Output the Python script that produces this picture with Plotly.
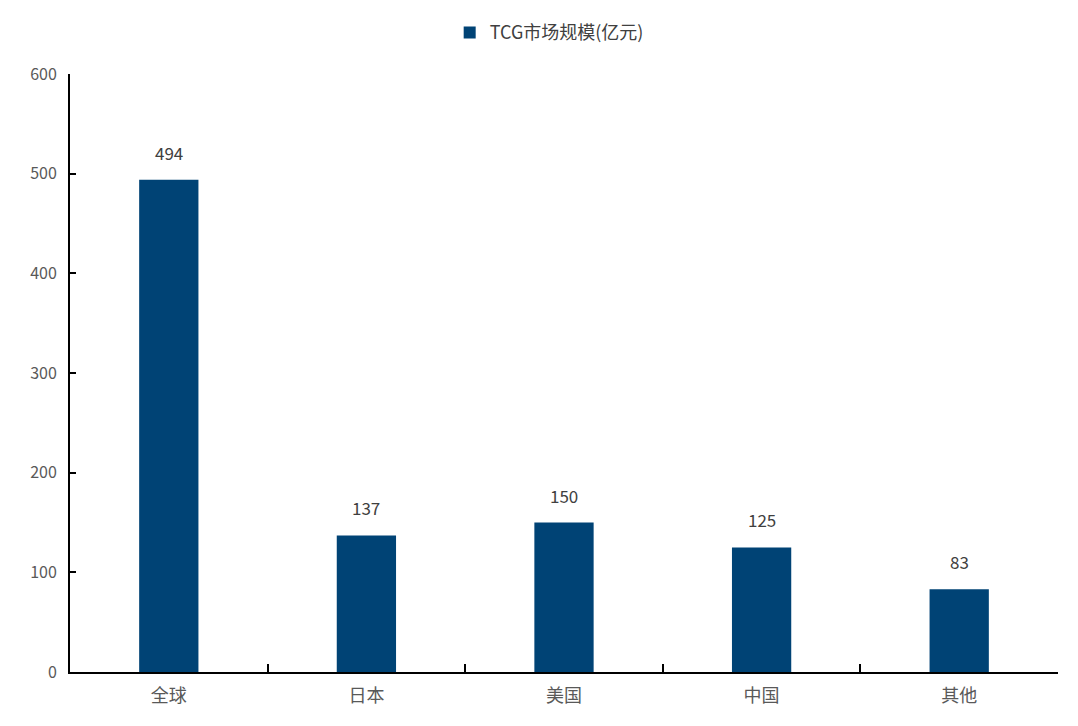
import plotly.graph_objects as go

categories = ["全球", "日本", "美国", "中国", "其他"]
values = [494, 137, 150, 125, 83]
series_name = "TCG市场规模(亿元)"
y_ticks = [0, 100, 200, 300, 400, 500, 600]

FONT = "Noto Sans CJK SC"
BAR = "#004375"

fig = go.Figure()
fig.add_trace(go.Bar(
    x=categories, y=values, name=series_name,
    marker=dict(color=BAR, line=dict(width=0)),
    width=0.3, showlegend=True,
))

for c, v in zip(categories, values):
    fig.add_annotation(x=c, y=v, text=str(v), showarrow=False,
                       yanchor="bottom", yshift=13,
                       font=dict(family=FONT, size=17, color="#404040"))

fig.update_layout(
    width=1078, height=726,
    margin=dict(l=70, r=20, t=74, b=54),
    paper_bgcolor="white", plot_bgcolor="white",
    font=dict(family=FONT, size=16, color="#595959"),
    showlegend=True,
    legend=dict(orientation="h", x=0.485, xanchor="center", y=1.069, yanchor="middle",
                font=dict(family=FONT, size=18, color="#404040"),
                itemwidth=30),
)
fig.update_xaxes(
    showline=True, linecolor="black", linewidth=2,
    ticks="inside", tickson="boundaries", ticklen=8, tickcolor="black", tickwidth=2,
    showgrid=False, ticklabelstandoff=6,
    tickfont=dict(family=FONT, size=18, color="#595959"),
)
fig.update_yaxes(
    range=[0, 600], tickvals=y_ticks, showline=True, linecolor="black", linewidth=2,
    ticks="inside", ticklen=6, tickcolor="black", tickwidth=2,
    showgrid=False, zeroline=False, ticklabelstandoff=8,
    tickfont=dict(family=FONT, size=16, color="#595959"),
)

fig.write_html("out.html")
